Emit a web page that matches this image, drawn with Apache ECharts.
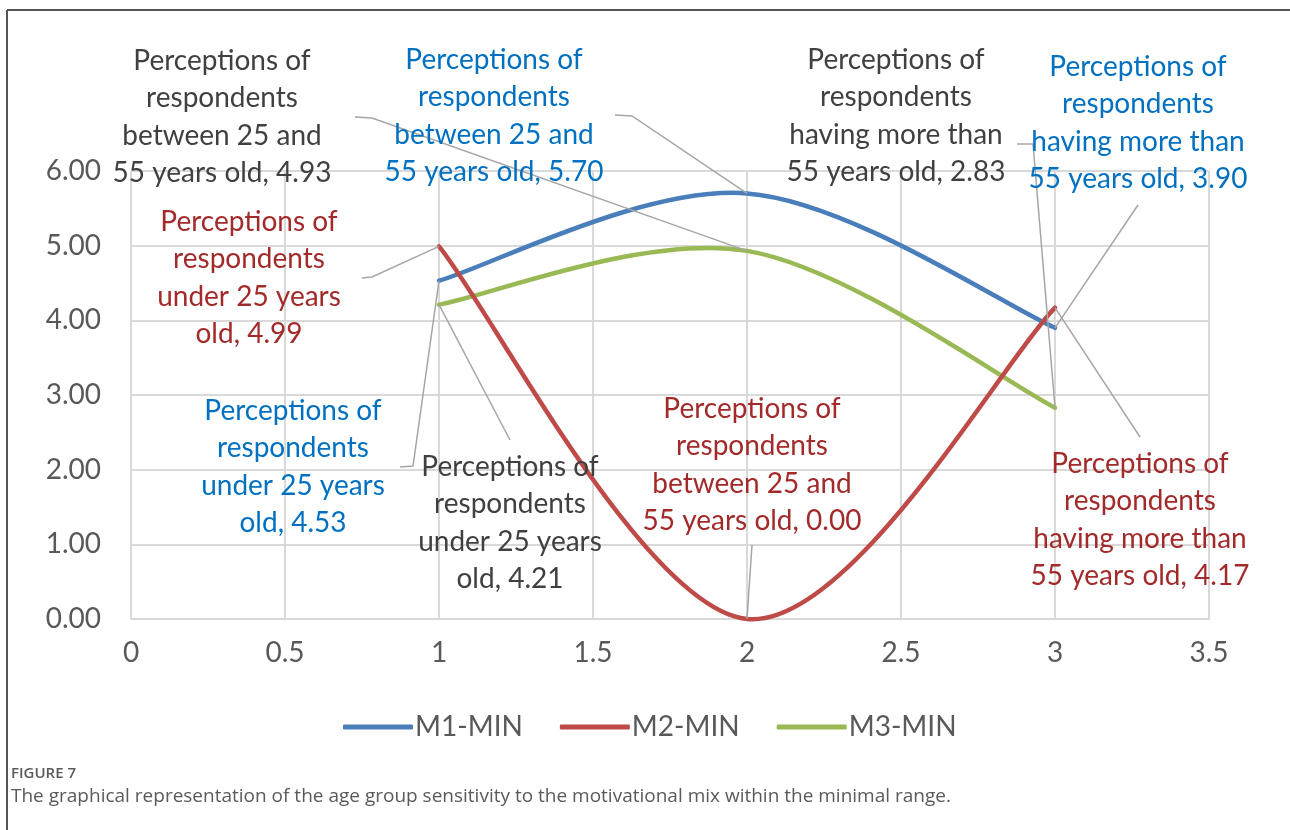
<!DOCTYPE html>
<html><head><meta charset="utf-8">
<script src="https://cdn.jsdelivr.net/npm/echarts@6/dist/echarts.min.js"></script>
<style>html,body{margin:0;padding:0;background:#fff}#c{width:1290px;height:830px}</style>
</head><body><div id="c"></div>
<script>
// ---- data ----
const xValues = [1, 2, 3];
const seriesNames = ['M1-MIN', 'M2-MIN', 'M3-MIN'];
const m1Values = [4.53, 5.70, 3.90];
const m2Values = [4.99, 0.00, 4.17];
const m3Values = [4.21, 4.93, 2.83];
const ageGroupLines = [
  ['Perceptions of', 'respondents', 'under 25 years', 'old'],
  ['Perceptions of', 'respondents', 'between 25 and', '55 years old'],
  ['Perceptions of', 'respondents', 'having more than', '55 years old']
];
const captionLabel = 'FIGURE 7';
const captionText = 'The graphical representation of the age group sensitivity to the motivational mix within the minimal range.';

// ---- layout / style (not data) ----
const lineColors = ['#4A7EBB', '#BE4B48', '#98B954'];
const labelColors = ['#0070C0', '#A32A2A', '#404040'];
const curveOrder = [1, 3, 2]; // red drawn on top, then green, then blue
const labelCenters = [
  [[293, 467], [494, 116], [1138, 123]],
  [[249, 278], [752, 465], [1140, 520]],
  [[510, 523], [222, 117], [896, 116]]
];
const leaderStarts = [
  [[[400, 467], [413, 466]], [[615, 115], [632, 116]], [[1138, 205]]],
  [[[362, 278], [372, 277]], [[752, 545]], [[1140, 437]]],
  [[[510, 440]], [[355, 117], [372, 118]], [[1017, 144], [1033, 144]]]
];
const FONT = 'Lato';

const chart = echarts.init(document.getElementById('c'), null, {renderer: 'canvas'});
const allValues = [m1Values, m2Values, m3Values];

// Excel-like smoothed path (Catmull-Rom style Bezier, tension 1/6) through pixel points
function smoothPath(pts) {
  let d = 'M' + pts[0][0] + ' ' + pts[0][1];
  const n = pts.length;
  for (let i = 0; i < n - 1; i++) {
    const p0 = pts[Math.max(i - 1, 0)], p1 = pts[i], p2 = pts[i + 1], p3 = pts[Math.min(i + 2, n - 1)];
    const c1 = [p1[0] + (p2[0] - p0[0]) / 6, p1[1] + (p2[1] - p0[1]) / 6];
    const c2 = [p2[0] - (p3[0] - p1[0]) / 6, p2[1] - (p3[1] - p1[1]) / 6];
    d += 'C' + c1[0] + ' ' + c1[1] + ' ' + c2[0] + ' ' + c2[1] + ' ' + p2[0] + ' ' + p2[1];
  }
  return d;
}

const series = allValues.map((vals, si) => ({
  name: seriesNames[si],
  type: 'custom',
  coordinateSystem: 'cartesian2d',
  data: xValues.map((x, i) => [x, vals[i]]),
  encode: {x: 0, y: 1},
  itemStyle: {color: lineColors[si]},
  renderItem: (params, api) => {
    const i = params.dataIndex;
    const pts = xValues.map((x, k) => api.coord([x, vals[k]]));
    const children = [];
    if (i === 0) {
      children.push({
        type: 'path', z2: 10 + curveOrder[si],
        shape: {pathData: smoothPath(pts)},
        style: {stroke: lineColors[si], lineWidth: 4.5, fill: null, lineCap: 'round', lineJoin: 'round'}
      });
    }
    const lead = leaderStarts[si][i].concat([pts[i]]);
    children.push({
      type: 'polyline', z2: 50,
      shape: {points: lead},
      style: {stroke: '#A6A6A6', lineWidth: 1.5, fill: null}
    });
    const ls = ageGroupLines[i].slice();
    ls[ls.length - 1] = ls[ls.length - 1] + ', ' + vals[i].toFixed(2);
    const c = labelCenters[si][i];
    children.push({
      type: 'text', z2: 60,
      style: {
        text: ls.join('\n'), x: c[0], y: c[1], align: 'center', verticalAlign: 'middle',
        fill: labelColors[si], fontFamily: FONT, fontSize: 28, lineHeight: 37.5
      }
    });
    return {type: 'group', children: children};
  }
}));

chart.setOption({
  animation: false,
  backgroundColor: '#fff',
  textStyle: {fontFamily: FONT},
  grid: {left: 131, right: 81, top: 171, bottom: 211, containLabel: false},
  xAxis: {
    type: 'value', min: 0, max: 3.5, interval: 0.5,
    axisLine: {show: true, lineStyle: {color: '#D9D9D9', width: 2}},
    axisTick: {show: false},
    splitLine: {show: true, lineStyle: {color: '#D9D9D9', width: 2}},
    axisLabel: {color: '#595959', fontSize: 28, fontFamily: FONT, margin: 20}
  },
  yAxis: {
    type: 'value', min: 0, max: 6, interval: 1,
    axisLine: {show: false},
    axisTick: {show: false},
    splitLine: {show: true, lineStyle: {color: '#D9D9D9', width: 2}},
    axisLabel: {color: '#595959', fontSize: 28, fontFamily: FONT, margin: 30, formatter: v => v.toFixed(2)}
  },
  legend: {
    top: 713, left: 343, padding: 0,
    icon: 'roundRect', itemWidth: 70, itemHeight: 5, itemGap: 37,
    textStyle: {color: '#595959', fontSize: 28, fontFamily: FONT, padding: [0, 0, 0, -3]},
    data: seriesNames.map((n, i) => ({name: n, itemStyle: {color: lineColors[i]}}))
  },
  graphic: [
    {type: 'line', shape: {x1: 7, y1: 10, x2: 1290, y2: 10}, style: {stroke: '#555', lineWidth: 2}},
    {type: 'line', shape: {x1: 7, y1: 10, x2: 7, y2: 830}, style: {stroke: '#555', lineWidth: 2}},
    {type: 'text', left: 11, top: 766, style: {text: captionLabel, fill: '#5A5A5A', font: '600 15px "Open Sans"'}},
    {type: 'text', left: 11, top: 787, style: {text: captionText, fill: '#5A5A5A', font: '19px "Open Sans"'}}
  ],
  series: series
});
</script></body></html>
